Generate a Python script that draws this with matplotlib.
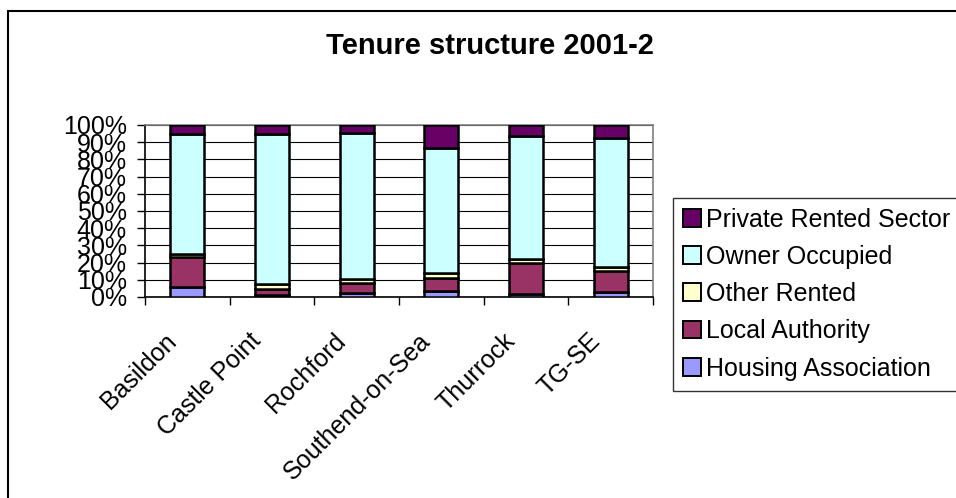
import matplotlib.pyplot as plt
import matplotlib.transforms as mtransforms
import numpy as np
from matplotlib.patches import Rectangle

plt.rcParams['font.family'] = ['Liberation Sans', 'DejaVu Sans']

# ------------------ DATA ------------------
areas = ['Basildon', 'Castle Point', 'Rochford', 'Southend-on-Sea', 'Thurrock', 'TG-SE']

housing_assoc = [5.8, 1.2, 2.5, 3.5, 1.5, 3.0]
local_authority = [17.2, 3.3, 5.5, 7.5, 18.0, 12.0]
other_rented = [2.0, 2.8, 2.2, 3.0, 2.5, 2.5]
owner_occupied = [70.0, 87.7, 85.3, 72.5, 71.5, 75.0]
private_rented = [5.0, 5.0, 4.5, 13.5, 6.5, 7.5]

y_ticks = list(range(0, 101, 10))
y_labels = [f'{t}%' for t in y_ticks]
# ------------------------------------------

series = [
    ('Housing Association', housing_assoc, '#9999FF'),
    ('Local Authority', local_authority, '#993366'),
    ('Other Rented', other_rented, '#FFFFCC'),
    ('Owner Occupied', owner_occupied, '#CCFFFF'),
    ('Private Rented Sector', private_rented, '#660066'),
]

fig = plt.figure(figsize=(9.56, 4.98), dpi=100)
ax = fig.add_axes([145 / 956, 1 - 297 / 498, 508 / 956, 172 / 498])

x = np.arange(len(areas))
bottom = np.zeros(len(areas))
handles = []
for name, vals, color in series:
    vals = np.array(vals)
    h = ax.bar(x, vals, width=0.4, bottom=bottom, color=color,
               edgecolor='black', linewidth=1.8, label=name, zorder=3)
    handles.append(h)
    bottom += vals

ax.set_xlim(-0.5, len(areas) - 0.5)
ax.set_ylim(0, 100)

ax.set_yticks(y_ticks)
ax.set_yticklabels(y_labels, fontsize=18)
ax.yaxis.grid(True, color='black', linewidth=0.8, zorder=0)
ax.set_axisbelow(True)
ax.tick_params(axis='y', direction='out', length=6, width=1, pad=7)

# category labels sit slanted under each bar, ticks mark the boundaries
ax.set_xticks(x)
ax.set_xticklabels(areas, fontsize=18, rotation=45, ha='right', va='bottom',
                   rotation_mode='anchor')
ax.tick_params(axis='x', which='major', length=0, pad=35)
shift = mtransforms.ScaledTranslation(-6 / 100, 0, fig.dpi_scale_trans)
for lbl in ax.get_xticklabels():
    lbl.set_transform(lbl.get_transform() + shift)
ax.set_xticks(np.arange(-0.5, len(areas), 1), minor=True)
ax.tick_params(axis='x', which='minor', direction='out', length=6, width=1)

for side in ['top', 'right']:
    ax.spines[side].set_color('#808080')
    ax.spines[side].set_linewidth(1.2)
for side in ['left', 'bottom']:
    ax.spines[side].set_color('black')
    ax.spines[side].set_linewidth(1.2)

fig.text(490 / 956, 1 - 46 / 498, 'Tenure structure 2001-2', fontsize=21,
         fontweight='bold', ha='center', va='center')

leg = fig.legend(handles[::-1], [s[0] for s in series][::-1],
                 loc='center left', bbox_to_anchor=(673 / 956, 1 - 294 / 498),
                 fontsize=18, frameon=True, fancybox=False,
                 handlelength=0.72, handleheight=0.72, handletextpad=0.2,
                 labelspacing=0.53, borderpad=0.4, borderaxespad=0)
leg.get_frame().set_edgecolor('black')
leg.get_frame().set_linewidth(1.0)
for p in leg.get_patches():
    p.set_linewidth(1.4)

# chart area border
fig.patches.append(Rectangle((8 / 956, -0.1), 1.2, 1.1 - 11 / 498,
                             transform=fig.transFigure, fill=False,
                             edgecolor='black', linewidth=1.5))

fig.savefig('out.png', dpi=100, facecolor='white')
